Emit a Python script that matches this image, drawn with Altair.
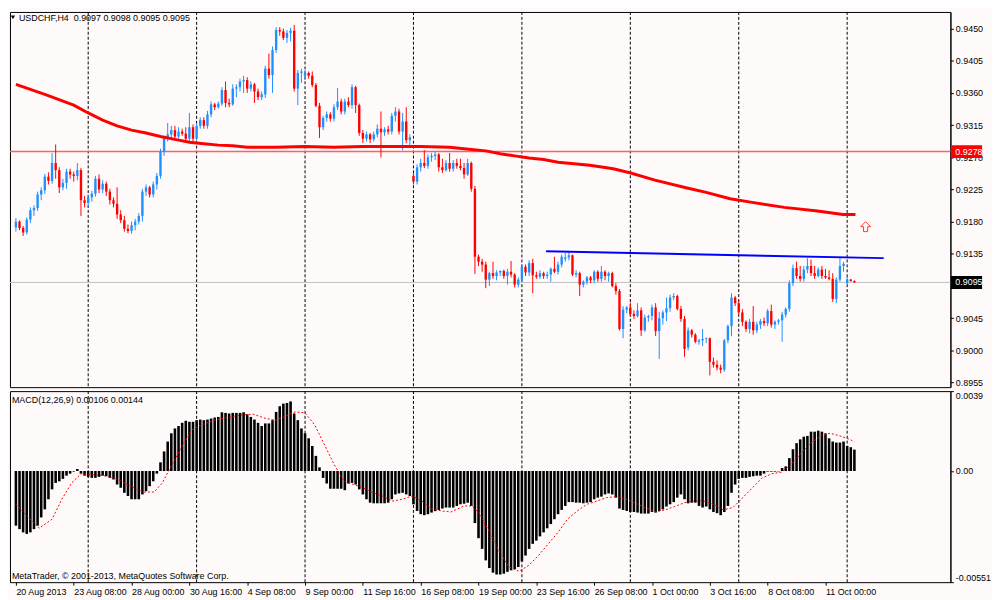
import altair as alt
import pandas as pd

FONT = "Liberation Sans"
BG = "#FFFAFA"
BULL = "#1E90FF"
BEAR = "#FF0000"

SYMBOL = "USDCHF,H4"

# ---- H4 candles, prices in pips (x 0.0001), bar 0 = 20 Aug 2013 16:00 ----
OPEN = [
    9172, 9180, 9171, 9165, 9183, 9196, 9199, 9218, 9224, 9243,
    9237, 9262, 9252, 9228, 9234, 9250, 9246, 9244, 9252, 9210,
    9206, 9214, 9219, 9240, 9225, 9233, 9222, 9210, 9205, 9190,
    9182, 9170, 9167, 9175, 9180, 9188, 9222, 9228, 9218, 9232,
    9244, 9278, 9297, 9302, 9308, 9299, 9306, 9303, 9296, 9312,
    9296, 9314, 9322, 9314, 9330, 9344, 9340, 9345, 9364, 9346,
    9344, 9366, 9368, 9376, 9378, 9366, 9372, 9362, 9354, 9358,
    9394, 9385, 9420, 9448, 9446, 9437, 9444, 9447, 9366, 9388,
    9384, 9388, 9384, 9371, 9342, 9312, 9325, 9330, 9324, 9340,
    9348, 9334, 9348, 9343, 9368, 9343, 9304, 9296, 9302, 9295,
    9302, 9310, 9305, 9309, 9306, 9328, 9334, 9306, 9320, 9294,
    9244, 9236, 9256, 9262, 9258, 9270, 9272, 9274, 9256, 9252,
    9262, 9254, 9262, 9258, 9255, 9246, 9262, 9226, 9131, 9124,
    9120, 9099, 9108, 9104, 9109, 9111, 9104, 9110, 9106, 9092,
    9099, 9117, 9109, 9122, 9105, 9103, 9108, 9104, 9106, 9114,
    9110, 9120, 9128, 9130, 9133, 9106, 9108, 9092, 9096, 9102,
    9098, 9110, 9100, 9110, 9104, 9108, 9090, 9083, 9030, 9057,
    9060, 9051, 9048, 9056, 9028, 9046, 9048, 9060, 9027, 9045,
    9053, 9059, 9074, 9076, 9058, 9044, 9004, 9028, 9022, 9012,
    9014, 9016, 9017, 8984, 8980, 8976, 8973, 9014, 9034, 9074,
    9066, 9053, 9040, 9030, 9040, 9028, 9036, 9041, 9038, 9055,
    9036, 9040, 9042, 9050, 9058, 9094, 9115, 9104, 9100, 9113,
    9118, 9108, 9104, 9113, 9104, 9102, 9100, 9072, 9099, 9118,
    9094, 9099, 9097,
]
HIGH = [
    9185, 9182, 9174, 9186, 9200, 9203, 9222, 9228, 9247, 9249,
    9276, 9288, 9256, 9240, 9254, 9254, 9250, 9262, 9255, 9216,
    9218, 9223, 9244, 9246, 9238, 9236, 9226, 9214, 9228, 9196,
    9188, 9176, 9180, 9184, 9192, 9226, 9232, 9230, 9236, 9248,
    9282, 9300, 9318, 9314, 9314, 9312, 9310, 9312, 9332, 9316,
    9318, 9326, 9326, 9335, 9348, 9346, 9348, 9368, 9376, 9352,
    9372, 9372, 9380, 9384, 9382, 9376, 9374, 9366, 9362, 9398,
    9415, 9425, 9452, 9452, 9450, 9448, 9451, 9455, 9392, 9394,
    9392, 9390, 9390, 9374, 9346, 9328, 9334, 9333, 9344, 9367,
    9352, 9352, 9354, 9372, 9370, 9345, 9308, 9306, 9304, 9306,
    9316, 9334, 9312, 9314, 9332, 9340, 9338, 9332, 9340, 9302,
    9248, 9260, 9268, 9280, 9274, 9276, 9278, 9276, 9268, 9266,
    9276, 9266, 9268, 9268, 9262, 9268, 9264, 9230, 9134, 9128,
    9124, 9110, 9124, 9112, 9112, 9113, 9114, 9125, 9108, 9102,
    9120, 9120, 9126, 9128, 9110, 9112, 9110, 9110, 9116, 9131,
    9124, 9134, 9136, 9137, 9134, 9112, 9110, 9098, 9104, 9104,
    9112, 9112, 9118, 9112, 9110, 9110, 9094, 9086, 9062, 9062,
    9067, 9056, 9066, 9060, 9050, 9050, 9064, 9066, 9054, 9056,
    9074, 9078, 9080, 9078, 9062, 9048, 9032, 9030, 9024, 9016,
    9030, 9018, 9018, 8990, 8986, 8980, 9016, 9036, 9080, 9076,
    9070, 9058, 9042, 9044, 9062, 9040, 9044, 9046, 9058, 9064,
    9042, 9044, 9054, 9060, 9098, 9120, 9124, 9118, 9118, 9129,
    9127, 9118, 9116, 9118, 9114, 9112, 9108, 9102, 9129, 9124,
    9103, 9100, 9098,
]
LOW = [
    9166, 9168, 9160, 9162, 9178, 9188, 9195, 9210, 9219, 9232,
    9233, 9240, 9220, 9224, 9226, 9240, 9236, 9238, 9188, 9200,
    9200, 9208, 9215, 9220, 9220, 9216, 9204, 9200, 9184, 9178,
    9166, 9164, 9163, 9168, 9176, 9180, 9216, 9214, 9214, 9225,
    9240, 9272, 9292, 9296, 9294, 9296, 9300, 9290, 9292, 9292,
    9294, 9310, 9310, 9310, 9326, 9336, 9338, 9342, 9340, 9340,
    9342, 9354, 9362, 9360, 9360, 9362, 9346, 9350, 9350, 9353,
    9380, 9360, 9416, 9440, 9434, 9430, 9432, 9362, 9343, 9374,
    9378, 9380, 9368, 9340, 9297, 9308, 9320, 9320, 9320, 9336,
    9330, 9330, 9340, 9338, 9332, 9300, 9290, 9292, 9290, 9292,
    9298, 9270, 9300, 9302, 9302, 9320, 9302, 9280, 9290, 9286,
    9232, 9232, 9250, 9255, 9254, 9264, 9266, 9250, 9248, 9250,
    9250, 9250, 9254, 9252, 9240, 9244, 9222, 9107, 9118, 9110,
    9087, 9090, 9100, 9098, 9104, 9100, 9092, 9102, 9088, 9088,
    9096, 9104, 9104, 9080, 9100, 9100, 9100, 9100, 9096, 9108,
    9106, 9116, 9124, 9126, 9104, 9102, 9076, 9088, 9092, 9094,
    9094, 9096, 9096, 9098, 9096, 9088, 9078, 9028, 9017, 9052,
    9048, 9044, 9046, 9020, 9026, 9040, 9042, 9020, 8988, 9036,
    9041, 9054, 9070, 9056, 9040, 8991, 9000, 9018, 9010, 9008,
    9006, 9010, 8965, 8976, 8972, 8968, 8970, 9010, 9020, 9062,
    9050, 9034, 9026, 9024, 9022, 9024, 9030, 9034, 9034, 9032,
    9030, 9036, 9012, 9046, 9054, 9090, 9100, 9096, 9096, 9108,
    9104, 9100, 9102, 9100, 9100, 9098, 9068, 9066, 9096, 9110,
    9092, 9096, 9095,
]
CLOSE = [
    9180, 9171, 9165, 9183, 9196, 9199, 9218, 9224, 9243, 9237,
    9262, 9252, 9228, 9234, 9250, 9246, 9244, 9252, 9210, 9206,
    9214, 9219, 9240, 9225, 9233, 9222, 9210, 9205, 9190, 9182,
    9170, 9167, 9175, 9180, 9188, 9222, 9228, 9218, 9232, 9244,
    9278, 9297, 9302, 9308, 9299, 9306, 9303, 9296, 9312, 9296,
    9314, 9322, 9314, 9330, 9344, 9340, 9345, 9364, 9346, 9344,
    9366, 9368, 9376, 9378, 9366, 9372, 9362, 9354, 9358, 9394,
    9385, 9420, 9448, 9446, 9437, 9444, 9447, 9366, 9388, 9390,
    9388, 9384, 9371, 9342, 9312, 9325, 9330, 9324, 9340, 9348,
    9334, 9348, 9343, 9368, 9343, 9304, 9296, 9302, 9295, 9302,
    9310, 9305, 9309, 9306, 9328, 9334, 9306, 9320, 9294, 9298,
    9236, 9256, 9262, 9258, 9270, 9272, 9274, 9256, 9252, 9262,
    9254, 9262, 9258, 9255, 9246, 9262, 9226, 9131, 9124, 9120,
    9099, 9108, 9104, 9109, 9111, 9104, 9110, 9106, 9092, 9099,
    9117, 9109, 9122, 9105, 9103, 9108, 9104, 9106, 9114, 9110,
    9120, 9131, 9130, 9133, 9106, 9108, 9092, 9096, 9102, 9098,
    9110, 9100, 9110, 9104, 9108, 9090, 9083, 9030, 9057, 9060,
    9051, 9048, 9056, 9028, 9046, 9048, 9060, 9027, 9045, 9053,
    9059, 9074, 9076, 9058, 9044, 9002, 9028, 9022, 9012, 9014,
    9016, 9017, 8984, 8980, 8976, 8973, 9014, 9034, 9074, 9066,
    9053, 9040, 9030, 9040, 9028, 9036, 9041, 9038, 9055, 9036,
    9040, 9042, 9050, 9058, 9094, 9115, 9104, 9100, 9113, 9118,
    9108, 9104, 9113, 9104, 9102, 9100, 9072, 9099, 9118, 9121,
    9099, 9097, 9095,
]

# ---- MACD(12,26,9) main histogram, units of 0.00001 ----
MACD_MAIN = [
    -271, -288, -304, -312, -304, -288, -271, -230, -190, -140,
    -91, -59, -51, -39, -23, -13, -3, 10, -13, -23,
    -29, -34, -34, -29, -23, -26, -34, -42, -67, -83,
    -108, -124, -140, -140, -140, -116, -100, -75, -51, -13,
    43, 97, 146, 187, 211, 223, 239, 249, 244, 244,
    252, 255, 252, 255, 260, 265, 268, 291, 288, 285,
    288, 288, 288, 291, 281, 268, 255, 239, 223, 236,
    236, 252, 293, 321, 334, 337, 345, 285, 252, 211,
    187, 162, 124, 75, 18, -34, -62, -88, -88, -88,
    -88, -95, -62, -59, -67, -91, -116, -140, -157, -160,
    -160, -160, -160, -157, -140, -116, -111, -108, -116, -124,
    -165, -198, -214, -219, -214, -206, -199, -193, -186, -181,
    -181, -181, -173, -165, -162, -157, -173, -258, -333, -386,
    -443, -481, -504, -513, -513, -509, -500, -492, -487, -476,
    -448, -419, -386, -361, -345, -324, -304, -284, -263, -239,
    -214, -193, -173, -154, -154, -157, -157, -160, -157, -154,
    -140, -132, -127, -116, -111, -116, -132, -186, -193, -198,
    -203, -203, -206, -211, -211, -211, -203, -206, -198, -190,
    -176, -165, -154, -132, -116, -140, -160, -157, -157, -173,
    -181, -176, -190, -203, -209, -219, -203, -173, -108, -67,
    -39, -34, -34, -29, -26, -23, -23, -13, -3, -3,
    -3, -2, 15, 23, 64, 108, 138, 157, 170, 174,
    195, 195, 200, 195, 187, 162, 146, 141, 141, 146,
    124, 118, 106,
]

# ---- MACD signal line (bar, value in 0.00001) ----
SIGNAL = [
    (0, -165), (6.4, -284), (10, -239), (12.7, -140), (15.4, -59), (18.1, -13),
    (20.8, -18), (24.4, -23), (28, -39), (31.6, -75), (35.1, -104), (38.3, -104),
    (40.5, -59), (43.2, 31), (45.9, 121), (48.6, 203), (51.3, 228), (54.9, 252),
    (58.5, 265), (62.1, 277), (65.6, 282), (69.2, 260), (71.9, 252), (74.6, 272),
    (77.3, 293), (80, 288), (82.7, 228), (85.4, 129), (88.1, 31), (90.8, -51),
    (93.4, -67), (96.1, -83), (98.8, -108), (101.5, -124), (104.2, -149), (106.9, -140),
    (109.6, -124), (112.3, -149), (115, -187), (117.7, -198), (120.4, -203), (124, -173),
    (126.2, -173), (128.4, -214), (131.1, -304), (133.8, -402), (136.5, -476), (139.2, -497),
    (141.9, -468), (144.6, -419), (147.3, -361), (150, -304), (152.6, -239), (155.3, -198),
    (158, -165), (160.7, -149), (163.4, -132), (166.1, -127), (168.8, -140), (171.5, -160),
    (174.2, -181), (176.9, -203), (179.6, -193), (182.3, -176), (185, -157), (187.6, -149),
    (190.3, -149), (193, -165), (195.7, -193), (198.4, -181), (201.1, -132), (203.8, -83),
    (206.5, -34), (209.2, -13), (211.8, -6), (214.5, 31), (217.2, 88), (219.9, 138),
    (222.6, 174), (225.3, 187), (228, 174), (230.7, 157), (232, 144),
]

# ---- moving average (bar, price in pips) ----
MOVING_AVG = [
    (0, 9372), (8, 9358), (16, 9343), (20, 9332), (24, 9322), (28, 9314), (32, 9308),
    (36, 9304), (40, 9299), (44, 9295), (48, 9291), (52, 9289), (56, 9287), (60, 9286),
    (64, 9284), (72, 9284), (80, 9285), (88, 9284), (96, 9285), (104, 9285), (112, 9285),
    (120, 9284), (126, 9281), (130, 9279), (134, 9275), (138, 9272), (142, 9269),
    (146, 9267), (150, 9263), (158.8, 9259), (165.3, 9254), (170.1, 9248), (176.8, 9238),
    (185.7, 9227), (191, 9221), (197.6, 9212), (203.7, 9207), (212.6, 9200),
    (221.8, 9195), (228.8, 9190), (232.3, 9190),
]

GRID_BARS = [20, 50, 80, 110, 140, 170, 200, 230]
TIME_TICKS = [0, 16, 32, 48, 64, 80, 96, 112, 128, 144, 160, 176, 192, 208, 224]
TIME_LABELS = ["20 Aug 2013", "23 Aug 08:00", "28 Aug 00:00", "30 Aug 16:00",
               "4 Sep 08:00", "9 Sep 00:00", "11 Sep 16:00", "16 Sep 08:00",
               "19 Sep 00:00", "23 Sep 16:00", "26 Sep 08:00", "1 Oct 00:00",
               "3 Oct 16:00", "8 Oct 08:00", "11 Oct 00:00"]
# 0.9090 sits fully under the bid tag in the reference, so it is not listed
PRICE_TICKS = [8955, 9000, 9045, 9135, 9180, 9225, 9270, 9315, 9360, 9405, 9450]
LEVEL_LINE = 9278
BID_LINE = 9095
TREND_BARS = [146.7, 240.1]
TREND_PRICES = [9138.5, 9129.0]
ARROW_BAR = [235.1]
ARROW_PRICE = [9173]
MACD_TICKS = [0.00396, 0.0, -0.00551]
MACD_TICK_LABELS = ["0.0039", "0.00", "-0.00551"]

assert len(OPEN) == len(HIGH) == len(LOW) == len(CLOSE) == len(MACD_MAIN) == 233

PIP = 0.0001
MU = 0.00001
W = 950
H_MAIN = 379
H_MACD = 193

candles = pd.DataFrame({
    "bar": list(range(len(CLOSE))),
    "open": [v * PIP for v in OPEN],
    "high": [v * PIP for v in HIGH],
    "low": [v * PIP for v in LOW],
    "close": [v * PIP for v in CLOSE],
    "dir": ["up" if c >= o else "down" for o, c in zip(OPEN, CLOSE)],
})
hist = pd.DataFrame({"bar": list(range(len(MACD_MAIN))), "v": [v * MU for v in MACD_MAIN]})
sig = pd.DataFrame({"bar": [b for b, _ in SIGNAL], "v": [v * MU for _, v in SIGNAL]})
ma = pd.DataFrame({"bar": [b for b, _ in MOVING_AVG], "p": [v * PIP for _, v in MOVING_AVG]})
grid = pd.DataFrame({"bar": GRID_BARS})

xs = alt.Scale(domain=[-0.27, 257.2], nice=False, zero=False)
ys = alt.Scale(domain=[0.89486, 0.94732], nice=False, zero=False)
ms = alt.Scale(domain=[-0.00551, 0.00396], nice=False, zero=False)
cscale = alt.Scale(domain=["up", "down"], range=[BULL, BEAR])

price_axis = alt.Axis(orient="right", values=[p * PIP for p in PRICE_TICKS], format=".4f",
                      tickSize=3, labelPadding=2, labelFont=FONT, labelFontSize=9,
                      labelColor="black", tickColor="black", domainColor="black",
                      grid=False, title=None, labelOverlap=False, labelFlush=False)

label_expr = "[" + ",".join(f"'{s}'" for s in TIME_LABELS) + "][round(datum.value / 16)]"
time_axis = alt.Axis(orient="bottom", values=TIME_TICKS, labelExpr=label_expr, labelAlign="left",
                     labelBaseline="top", labelPadding=2, tickSize=3, tickColor="black",
                     labelFont=FONT, labelFontSize=9, labelColor="black", domain=False,
                     grid=False, title=None, labelOverlap=False, labelFlush=False)
macd_label_expr = ("datum.value > 0.001 ? '" + MACD_TICK_LABELS[0] + "' : (datum.value < -0.001 ? '"
                   + MACD_TICK_LABELS[2] + "' : '" + MACD_TICK_LABELS[1] + "')")
macd_axis = alt.Axis(orient="right", values=MACD_TICKS, labelExpr=macd_label_expr,
                     tickSize=3, labelPadding=2, labelFont=FONT, labelFontSize=9,
                     labelColor="black", tickColor="black", domainColor="black",
                     grid=False, title=None, labelOverlap=False, labelFlush=False,
                     labelBaseline={"condition": [{"test": "datum.value > 0.001", "value": "top"},
                                                  {"test": "datum.value < -0.001", "value": "bottom"}],
                                    "value": "middle"})


def XB(field="bar"):
    return alt.X(f"{field}:Q", scale=xs, axis=None)


def YP(field):
    return alt.Y(f"{field}:Q", scale=ys, axis=price_axis)


def XM(field="bar"):
    return alt.X(f"{field}:Q", scale=xs, axis=time_axis)


def YM(field):
    return alt.Y(f"{field}:Q", scale=ms, axis=macd_axis)


grid_main = alt.Chart(grid).mark_rule(color="black", strokeDash=[3, 2], strokeWidth=1).encode(x=XB())
level = alt.Chart(pd.DataFrame({"p": [LEVEL_LINE * PIP]})).mark_rule(
    color="#FF6060", strokeWidth=1.6).encode(y=YP("p"))
bid = alt.Chart(pd.DataFrame({"p": [BID_LINE * PIP]})).mark_rule(
    color="#C0C0C0", strokeWidth=1).encode(y=YP("p"))
wick = alt.Chart(candles).mark_rule(strokeWidth=1).encode(
    x=XB(), y=YP("low"), y2="high:Q",
    color=alt.Color("dir:N", scale=cscale, legend=None))
body = alt.Chart(candles).mark_bar(size=2.4).encode(
    x=XB(), y=YP("open"), y2="close:Q",
    color=alt.Color("dir:N", scale=cscale, legend=None))
ma_line = alt.Chart(ma).mark_line(color="#FF0000", strokeWidth=3).encode(x=XB(), y=YP("p"))
trend = alt.Chart(pd.DataFrame({"b1": [TREND_BARS[0]], "b2": [TREND_BARS[1]],
                                "p1": [TREND_PRICES[0] * PIP], "p2": [TREND_PRICES[1] * PIP]})
                  ).mark_rule(color="#0000FF", strokeWidth=2).encode(
    x=XB("b1"), x2="b2:Q", y=YP("p1"), y2="p2:Q")
ARROW_PATH = "M0,-1 L1,0 L0.42,0 L0.42,1 L-0.42,1 L-0.42,0 L-1,0 Z"
arrow = alt.Chart(pd.DataFrame({"bar": ARROW_BAR, "p": [v * PIP for v in ARROW_PRICE]})).mark_point(
    shape=ARROW_PATH, filled=False, color="#FF3B3B", strokeWidth=1, size=100, opacity=1).encode(
    x=XB(), y=YP("p"))

tags = pd.DataFrame({"p": [LEVEL_LINE * PIP, BID_LINE * PIP],
                     "t": [f"{LEVEL_LINE * PIP:.4f}", f"{BID_LINE * PIP:.4f}"],
                     "bg": ["#FF0000", "#000000"]})
tag_box = alt.Chart(tags).mark_rule(strokeWidth=13, strokeCap="butt").encode(
    x=alt.value(W + 0.5), x2=alt.value(W + 32), y=YP("p"), color=alt.Color("bg:N", scale=None))
tag_text = alt.Chart(tags).mark_text(align="left", baseline="middle", font=FONT, fontSize=9,
                                     color="white").encode(
    x=alt.value(W + 5), y=YP("p"), text="t:N")

title_str = f"{SYMBOL}\u00a0\u00a0{OPEN[-1]*PIP:.4f} {HIGH[-1]*PIP:.4f} {LOW[-1]*PIP:.4f} {CLOSE[-1]*PIP:.4f}"
title = alt.Chart(pd.DataFrame({"t": [title_str]})).mark_text(
    align="left", baseline="middle", font=FONT, fontSize=9, color="black").encode(
    x=alt.value(9), y=alt.value(6), text="t:N")
tri = alt.Chart(pd.DataFrame({"t": [0]})).mark_point(
    shape="triangle-down", filled=True, color="black", size=18, opacity=1).encode(
    x=alt.value(3), y=alt.value(5.5))

main = alt.layer(grid_main, level, bid, wick, body, ma_line, trend, arrow,
                 tag_box, tag_text, title, tri).properties(width=W, height=H_MAIN)

# ---- MACD panel ----
grid_macd = alt.Chart(grid).mark_rule(color="black", strokeDash=[3, 2], strokeWidth=1).encode(x=XM())
bars = alt.Chart(hist).mark_bar(size=2.6, color="black").encode(
    x=XM(), y=YM("v"), y2=alt.datum(0))
sig_line = alt.Chart(sig).mark_line(color="#FF0000", strokeWidth=1, strokeDash=[2, 2]).encode(
    x=XM(), y=YM("v"))
macd_str = f"MACD(12,26,9) {MACD_MAIN[-1]*MU:.5f} {SIGNAL[-1][1]*MU:.5f}"
macd_title = alt.Chart(pd.DataFrame({"t": [macd_str]})).mark_text(
    align="left", baseline="middle", font=FONT, fontSize=9, color="black").encode(
    x=alt.value(2), y=alt.value(9), text="t:N")
copy_text = alt.Chart(pd.DataFrame({"t": ["MetaTrader, \u00a9 2001-2013, MetaQuotes Software Corp."]})).mark_text(
    align="left", baseline="middle", font=FONT, fontSize=9, color="black").encode(
    x=alt.value(2), y=alt.value(187), text="t:N")

macd = alt.layer(grid_macd, bars, sig_line, macd_title, copy_text).properties(width=W, height=H_MACD)

chart = alt.vconcat(main, macd, spacing=2).properties(
    padding=0, background=BG
).configure_view(stroke="black", strokeWidth=1, fill=BG)

chart.save("out.html", embed_options={"renderer": "svg", "actions": False})
